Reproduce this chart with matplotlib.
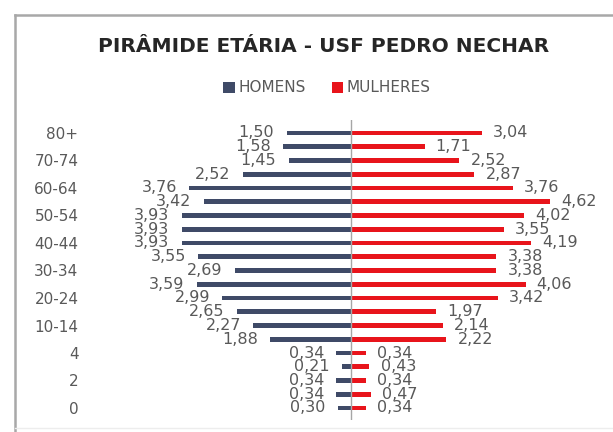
import matplotlib
matplotlib.use("Agg")
import matplotlib.pyplot as plt
from matplotlib.lines import Line2D

categories = ["0", "1", "2", "3", "4", "5-9", "10-14", "15-19", "20-24", "25-29",
              "30-34", "35-39", "40-44", "45-49", "50-54", "55-59", "60-64",
              "65-69", "70-74", "75-79", "80+"]
homens = [0.30, 0.34, 0.34, 0.21, 0.34, 1.88, 2.27, 2.65, 2.99, 3.59,
          2.69, 3.55, 3.93, 3.93, 3.93, 3.42, 3.76, 2.52, 1.45, 1.58, 1.50]
mulheres = [0.34, 0.47, 0.34, 0.43, 0.34, 2.22, 2.14, 1.97, 3.42, 4.06,
            3.38, 3.38, 4.19, 3.55, 4.02, 4.62, 3.76, 2.87, 2.52, 1.71, 3.04]
title = "PIRÂMIDE ETÁRIA - USF PEDRO NECHAR"
series_names = ["HOMENS", "MULHERES"]

plt.rcParams['font.family'] = ['DejaVu Sans']
W, H = 613, 432
fig = plt.figure(figsize=(W / 100, H / 100), dpi=100)
fig.patch.set_facecolor("white")

male_c = "#3F4A67"
female_c = "#E8141B"
txt_c = "#595959"

center_px = 351
ppu = 43.0
ax_l, ax_r = 84, 600
ax_t, ax_b = 120, 420
ax = fig.add_axes([ax_l / W, 1 - ax_b / H, (ax_r - ax_l) / W, (ax_b - ax_t) / H])
ax.set_xlim((ax_l - center_px) / ppu, (ax_r - center_px) / ppu)
ax.set_ylim(-(ax_b - 408) / 13.75, (408 - ax_t) / 13.75)

y = list(range(len(categories)))
bh = 0.36
ax.barh(y, [-v for v in homens], height=bh, color=male_c, label=series_names[0])
ax.barh(y, mulheres, height=bh, color=female_c, label=series_names[1])
ax.axvline(0, color="#A6A6A6", lw=1, zorder=3)

for i in y:
    ax.annotate(f"{homens[i]:.2f}".replace(".", ","), (-homens[i], i),
                xytext=(-9, 0), textcoords="offset points", ha="right", va="center",
                fontsize=11.5, color=txt_c)
    ax.annotate(f"{mulheres[i]:.2f}".replace(".", ","), (mulheres[i], i),
                xytext=(8, 0), textcoords="offset points", ha="left", va="center",
                fontsize=11.5, color=txt_c)

ticks = y[::2]
ax.set_yticks(ticks)
ax.set_yticklabels([categories[i] for i in ticks], fontsize=11, color=txt_c)
ax.tick_params(axis="y", length=0, pad=4)
ax.set_xticks([])
for s in ax.spines.values():
    s.set_visible(False)

fig.text(324 / W, 1 - 47 / H, title, ha="center", va="center", fontsize=14.5,
         fontweight="bold", color="#262626")

leg = fig.legend(loc="center", bbox_to_anchor=(327 / W, 1 - 88 / H), ncol=2,
                 frameon=False, fontsize=11, handlelength=0.75, handleheight=0.75,
                 columnspacing=1.7, handletextpad=0.25)
for t in leg.get_texts():
    t.set_color(txt_c)

# chart frame
fig.add_artist(Line2D([15 / W, 1], [1 - 15 / H, 1 - 15 / H], color="#A8A8A8", lw=1.8,
                      transform=fig.transFigure))
fig.add_artist(Line2D([15 / W, 15 / W], [1 - 15 / H, 0], color="#A8A8A8", lw=1.8,
                      transform=fig.transFigure))
fig.add_artist(Line2D([15 / W, 1], [1 - 428 / H, 1 - 428 / H], color="#EDEDED", lw=1,
                      transform=fig.transFigure))

fig.savefig("out.png", dpi=100, facecolor="white")
